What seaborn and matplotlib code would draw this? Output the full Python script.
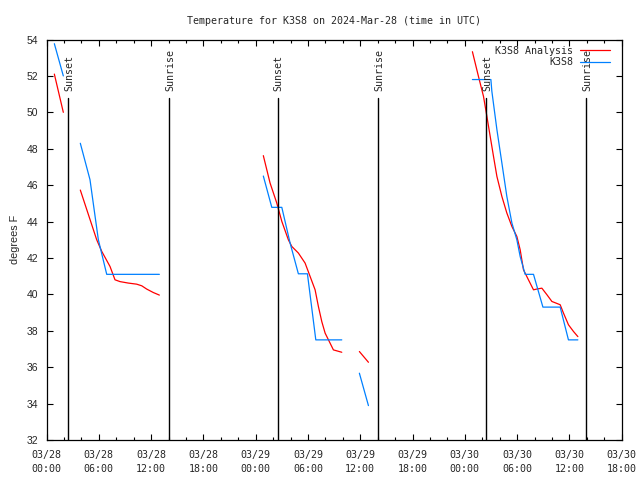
import numpy as np
import pandas as pd
import seaborn as sns
import matplotlib
matplotlib.use("Agg")
import matplotlib.pyplot as plt
from matplotlib.lines import Line2D
from matplotlib.ticker import MultipleLocator

# ---- data (hours since 2024-03-28 00:00 UTC) ----
analysis_seg = [1, 1,
                2, 2, 2, 2, 2, 2, 2, 2, 2, 2, 2, 2,
                3, 3, 3, 3, 3, 3, 3, 3, 3, 3, 3, 3, 3, 3, 3, 3,
                4, 4,
                5, 5, 5, 5, 5, 5, 5, 5, 5, 5, 5, 5, 5, 5, 5, 5, 5, 5, 5, 5, 5, 5, 5, 5]
analysis_hour = [0.9, 1.93,
                 3.88, 5.76, 6.34, 7.29, 7.86, 8.44, 9.39, 10.35, 10.93, 11.5, 12.26, 12.95,
                 24.88, 25.65, 26.42, 27.0, 27.75, 28.15, 28.9, 29.67, 30.25, 30.82, 31.2, 31.59, 31.97, 32.54, 32.92, 33.88,
                 35.9, 36.94,
                 48.87, 49.56, 50.14, 50.53, 50.91, 51.29, 51.68, 52.25, 52.82, 53.4, 53.97, 54.35, 54.73, 55.3,
                 55.88, 56.34, 56.84, 57.42, 57.99, 58.94, 59.32, 59.89, 60.47, 60.97]
analysis_temp = [52.1, 50.0,
                 45.73, 43.0, 42.36, 41.53, 40.8, 40.7, 40.62, 40.56, 40.47, 40.29, 40.1, 39.96,
                 47.62, 46.12, 45.02, 44.01, 43.0, 42.63, 42.27, 41.72, 40.98, 40.25, 39.33, 38.5, 37.87, 37.32, 36.95, 36.82,
                 36.86, 36.27,
                 53.33, 51.98, 50.88, 49.78, 48.68, 47.58, 46.48, 45.38, 44.47, 43.73, 43.18, 42.45, 41.35, 40.8,
                 40.25, 40.3, 40.34, 39.98, 39.61, 39.43, 38.97, 38.33, 37.96, 37.68]

obs_seg = [1, 1,
           2, 2, 2, 2, 2, 2,
           3, 3, 3, 3, 3, 3, 3, 3,
           4, 4,
           5, 5, 5, 5, 5, 5, 5, 5, 5, 5, 5, 5, 5, 5, 5]
obs_hour = [0.9, 1.93,
            3.88, 4.99, 5.57, 5.95, 6.91, 12.95,
            24.88, 25.85, 27.0, 27.95, 28.9, 29.94, 30.9, 33.88,
            35.9, 36.94,
            48.87, 50.99, 51.1, 51.68, 52.25, 52.82, 53.4, 53.97, 54.35, 54.92, 55.88, 56.96, 58.94, 59.89, 60.97]
obs_temp = [53.77, 52.0,
            48.3, 46.3, 44.3, 43.0, 41.1, 41.1,
            46.5, 44.78, 44.78, 42.82, 41.13, 41.13, 37.5, 37.5,
            35.67, 33.89,
            51.8, 51.8, 51.16, 49.05, 47.22, 45.38, 43.92, 43.0, 42.08, 41.1, 41.1, 39.3, 39.3, 37.5, 37.5]

sunset_hours = [2.5, 26.54, 50.48]
sunrise_hours = [14.1, 38.09, 61.96]

tick_hours = [0, 6, 12, 18, 24, 30, 36, 42, 48, 54, 60, 66]
tick_labels = ["03/28\n00:00", "03/28\n06:00", "03/28\n12:00", "03/28\n18:00",
               "03/29\n00:00", "03/29\n06:00", "03/29\n12:00", "03/29\n18:00",
               "03/30\n00:00", "03/30\n06:00", "03/30\n12:00", "03/30\n18:00"]
y_ticks = list(range(32, 56, 2))

RED = "#ff0000"
BLUE = "#0080ff"
MONO = "DejaVu Sans Mono"
FS = 7.2

df_a = pd.DataFrame({"seg": analysis_seg, "hour": analysis_hour, "temp": analysis_temp})
df_o = pd.DataFrame({"seg": obs_seg, "hour": obs_hour, "temp": obs_temp})

sns.set_style("white")
fig = plt.figure(figsize=(6.4, 4.8), dpi=100)
ax = fig.add_axes([46.5 / 640, 40 / 480, 575.2 / 640, 400.5 / 480])

sns.lineplot(data=df_a, x="hour", y="temp", units="seg", estimator=None,
             color=RED, linewidth=0.9, ax=ax, legend=False, sort=False)
sns.lineplot(data=df_o, x="hour", y="temp", units="seg", estimator=None,
             color=BLUE, linewidth=0.9, ax=ax, legend=False, sort=False)

for h in sunset_hours:
    ax.plot([h, h], [32, 50.76], color="black", linewidth=1.0)
    ax.text(h + 0.12, 51.16, "Sunset", rotation=90, ha="center", va="bottom",
            family=MONO, fontsize=FS)
for h in sunrise_hours:
    ax.plot([h, h], [32, 50.76], color="black", linewidth=1.0)
    ax.text(h + 0.12, 51.16, "Sunrise", rotation=90, ha="center", va="bottom",
            family=MONO, fontsize=FS)

ax.set_xlim(0, 66)
ax.set_ylim(32, 54)
ax.set_xticks(tick_hours)
ax.set_xticklabels(tick_labels, family=MONO, fontsize=FS, linespacing=1.45)
ax.xaxis.set_minor_locator(MultipleLocator(2))
ax.set_yticks(y_ticks)
ax.set_yticklabels([str(v) for v in y_ticks], family="Liberation Sans", fontsize=7.5)
ax.tick_params(axis="both", which="major", direction="in", length=4, width=0.8,
               top=True, right=True, bottom=True, left=True, color="black")
ax.tick_params(axis="x", which="major", pad=7.5)
ax.tick_params(axis="y", which="major", pad=6)
ax.tick_params(axis="x", which="minor", direction="in", length=2.3, width=0.8,
               top=True, bottom=True, color="black")
for s in ax.spines.values():
    s.set_color("black")
    s.set_linewidth(0.9)

ax.set_xlabel("")
ax.set_ylabel("degrees F", family="Liberation Sans", fontsize=7.8, labelpad=5)
ax.set_title("Temperature for K3S8 on 2024-Mar-28 (time in UTC)",
             family=MONO, fontsize=FS, pad=11)

handles = [Line2D([], [], color=RED, linewidth=0.9),
           Line2D([], [], color=BLUE, linewidth=0.9)]
ax.legend(handles, ["K3S8 Analysis", "K3S8"], loc="upper right",
          bbox_to_anchor=(0.9797, 0.984), borderaxespad=0, borderpad=0,
          frameon=False, markerfirst=False, handlelength=3.0,
          handletextpad=0.7, labelspacing=0.15,
          prop={"family": MONO, "size": FS})

fig.savefig("out.png", dpi=100)
